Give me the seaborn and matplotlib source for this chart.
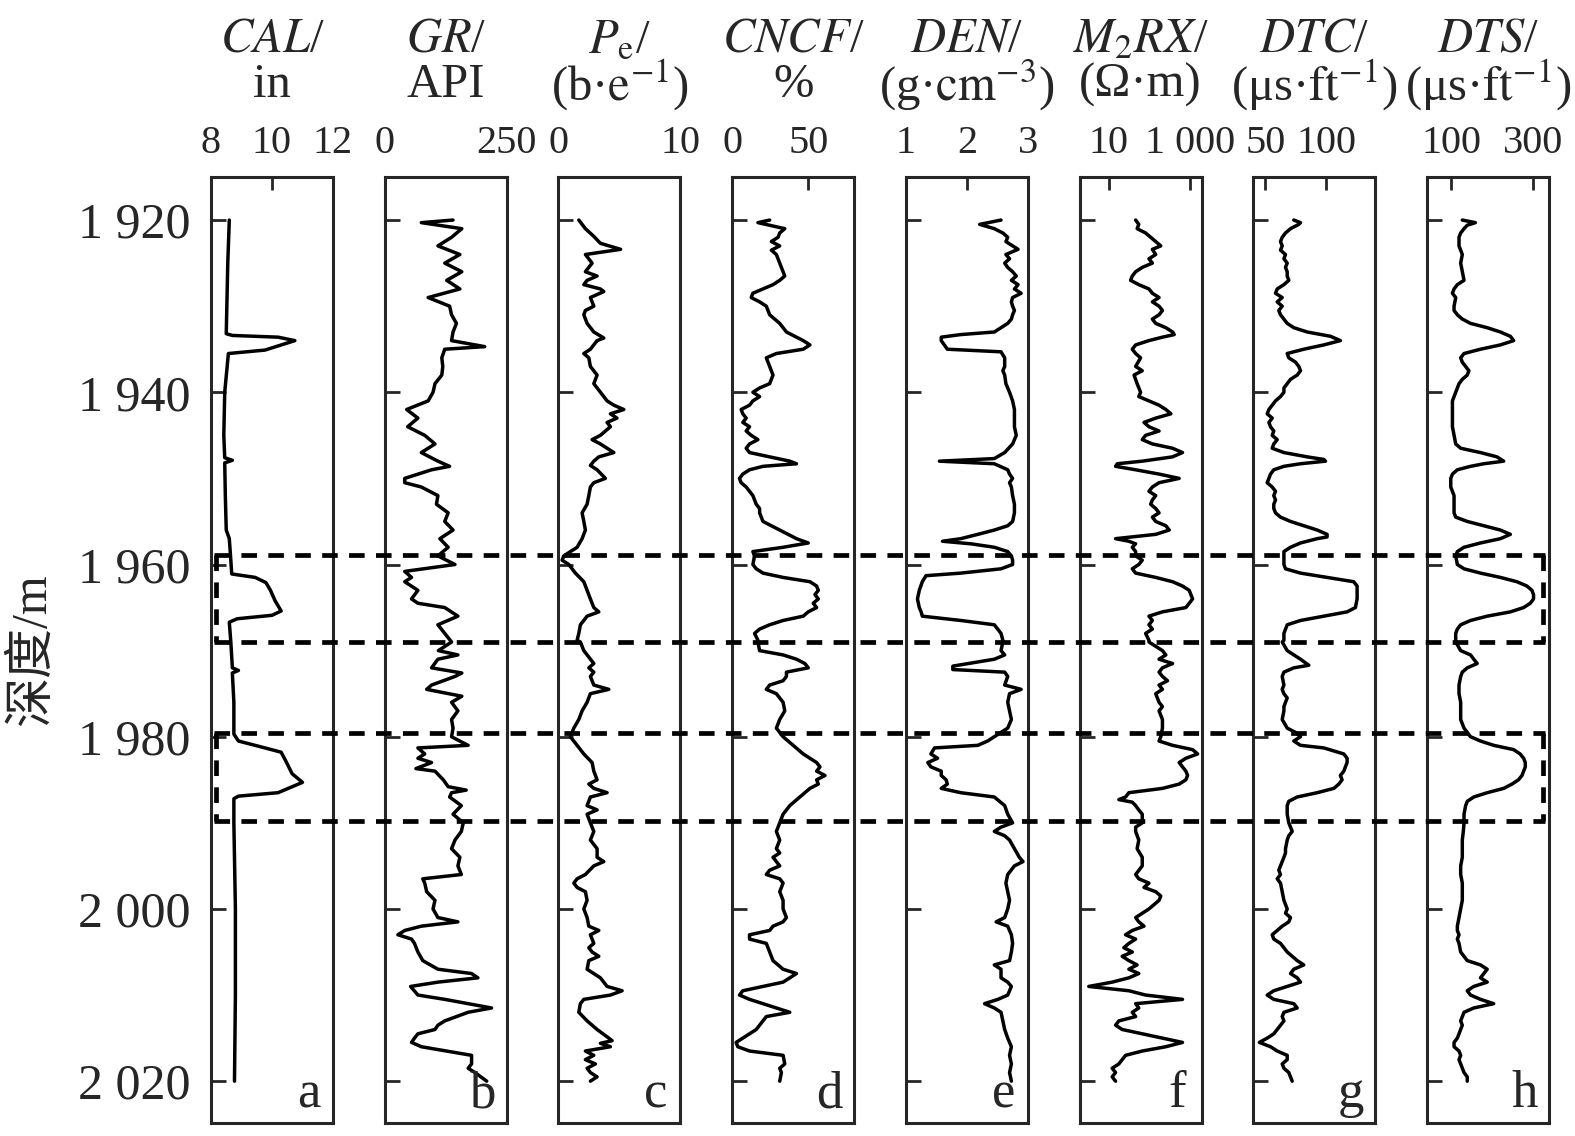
import numpy as np
import pandas as pd
import matplotlib
matplotlib.use("Agg")
import matplotlib.pyplot as plt
import matplotlib.transforms as mtransforms
from matplotlib.lines import Line2D
from matplotlib.ticker import NullLocator
import seaborn as sns

# ---- log data (depth in m) ----
cal_depth = [1920, 1925, 1933.2, 1933.4, 1933.6, 1934.0, 1935.1, 1935.5, 1940, 1945, 1947.6, 1947.9, 1948.2,
             1952, 1956, 1957, 1959.5, 1961.1, 1961.5, 1962.1, 1963.0, 1964.2, 1965.4, 1965.9, 1966.3, 1966.7,
             1969, 1972, 1972.3, 1972.6, 1976, 1979.7, 1980.5, 1981.3, 1981.8, 1982.8, 1984.3, 1985.3, 1986.5,
             1986.9, 1987.2, 1990, 2000, 2010, 2020]
cal = [8.6, 8.55, 8.5, 8.7, 10.2, 10.75, 9.77, 8.57, 8.45, 8.42, 8.45, 8.7, 8.45,
       8.47, 8.5, 8.6, 8.65, 8.68, 9.45, 9.8, 9.95, 10.1, 10.3, 10.0, 8.86, 8.6,
       8.65, 8.7, 8.9, 8.7, 8.75, 8.75, 8.9, 9.77, 10.3, 10.45, 10.66, 11.0, 10.2,
       8.9, 8.75, 8.75, 8.8, 8.8, 8.77]

gr_depth = [1920.0, 1920.3, 1921, 1922, 1923, 1924, 1925, 1926, 1927, 1928, 1929, 1930, 1931, 1932, 1933, 1934,
            1934.7, 1935, 1936, 1937, 1938, 1939, 1940, 1941, 1942, 1943, 1944, 1945, 1946, 1947, 1948, 1948.6,
            1949, 1950, 1950.5, 1951, 1952, 1953, 1954, 1955, 1956, 1957, 1958, 1959, 1960, 1960.8, 1961.5, 1962,
            1963, 1964, 1964.5, 1965, 1966, 1967, 1968, 1969, 1970, 1970.5, 1971, 1972, 1972.6, 1973, 1974,
            1974.5, 1975.3, 1976, 1977, 1978, 1979, 1980, 1980.6, 1981, 1981.3, 1982, 1982.5, 1983, 1983.7, 1984,
            1985, 1985.8, 1986.2, 1986.5, 1987, 1988, 1989, 1990, 1991, 1992, 1993, 1994, 1995, 1996, 1996.5,
            1997, 1998, 1999, 2000, 2001, 2001.5, 2002, 2002.5, 2003, 2003.5, 2004, 2005, 2006, 2007, 2007.5,
            2008, 2008.5, 2009, 2010, 2010.5, 2011, 2011.5, 2012, 2013, 2013.5, 2014, 2014.5, 2015, 2015.5, 2016,
            2017, 2018, 2018.5, 2019, 2020]
gr = [140, 75, 158, 137, 109, 154, 123, 158, 127, 154, 89, 133, 137, 147, 140, 137,
      205, 123, 117, 119, 117, 103, 99, 89, 45, 68, 47, 82, 103, 75, 109, 133,
      96, 41, 41, 75, 109, 106, 130, 123, 140, 113, 130, 109, 144, 41, 55, 41,
      68, 55, 68, 123, 150, 109, 123, 137, 110, 150, 109, 96, 158, 144, 96,
      86, 158, 137, 150, 137, 140, 137, 157, 171, 68, 82, 68, 96, 64, 103,
      120, 130, 167, 137, 133, 157, 140, 161, 157, 144, 137, 154, 150, 157, 78,
      82, 86, 103, 99, 109, 150, 75, 41, 27, 55, 61, 68, 78, 109, 178,
      191, 109, 53, 68, 123, 171, 219, 171, 123, 109, 103, 68, 61, 55, 75,
      178, 178, 171, 185, 209]

pe_depth = [1920, 1920.5, 1921, 1921.9, 1922.7, 1923.4, 1924, 1925, 1926, 1926.5, 1927, 1927.5, 1928, 1928.3,
            1929, 1930, 1930.5, 1931, 1932, 1933, 1933.7, 1934, 1935, 1935.5, 1936, 1937, 1938, 1939, 1940,
            1941, 1941.5, 1942, 1942.5, 1943, 1943.5, 1944, 1945, 1945.5, 1946, 1947, 1947.5, 1948, 1948.5,
            1949, 1950, 1950.5, 1951, 1952, 1953, 1954, 1955, 1956, 1957, 1958, 1958.5, 1959, 1959.5, 1960,
            1961, 1962, 1963, 1964, 1965, 1965.5, 1966, 1967, 1968, 1968.8, 1969, 1970, 1971, 1971.5, 1972,
            1972.5, 1973, 1974, 1974.5, 1975, 1976, 1977, 1978, 1979, 1980, 1981, 1982, 1983, 1984, 1985,
            1985.5, 1986, 1986.5, 1987, 1988, 1988.5, 1989, 1990, 1991, 1992, 1993, 1994, 1994.5, 1995, 1996,
            1996.5, 1997, 1997.5, 1998, 1999, 2000, 2001, 2002, 2002.5, 2003, 2004, 2004.5, 2005, 2005.5,
            2006, 2007, 2007.5, 2008, 2009, 2009.5, 2010, 2010.5, 2011, 2012, 2013, 2014, 2015, 2015.3,
            2015.6, 2016, 2016.5, 2017, 2017.5, 2018, 2018.5, 2019, 2019.5, 2020]
pe = [1.67, 1.94, 2.21, 2.9, 3.44, 5.1, 2.21, 2.76, 2.21, 3.17, 2.35, 2.08, 3.44, 3.72,
      2.62, 2.9, 2.21, 2.08, 2.35, 2.9, 3.72, 3.17, 2.62, 2.08, 2.49, 2.62, 3.17, 2.9, 3.44,
      3.99, 4.54, 5.36, 4.26, 4.8, 3.99, 4.26, 3.44, 2.76, 3.44, 4.54, 3.31, 2.9, 2.62,
      3.17, 3.85, 2.9, 2.62, 2.49, 2.35, 1.94, 2.08, 2.21, 1.94, 1.53, 0.98, 0.44, 0.3, 0.85,
      1.39, 2.08, 2.35, 2.62, 2.9, 3.31, 2.35, 1.8, 1.67, 1.53, 1.8, 2.08, 2.62, 2.9, 2.49,
      2.9, 2.62, 2.9, 4.13, 2.62, 2.35, 1.94, 1.67, 1.26, 0.98, 1.53, 2.08, 2.76, 2.9, 3.17,
      2.49, 2.9, 3.99, 2.62, 2.35, 3.17, 2.35, 2.62, 2.9, 2.62, 3.17, 3.17, 3.72, 2.9, 2.21,
      1.53, 1.26, 1.53, 2.21, 2.35, 2.08, 2.35, 2.49, 3.31, 2.62, 2.9, 2.49, 2.76, 3.31,
      2.49, 2.35, 2.9, 3.44, 3.99, 5.22, 4.26, 2.08, 1.8, 1.67, 2.35, 3.17, 4.13, 4.4,
      3.44, 4.26, 2.21, 2.9, 2.21, 3.03, 2.35, 2.62, 3.17, 2.62]

cncf_depth = [1920, 1920.3, 1921, 1921.5, 1922, 1922.5, 1923, 1923.5, 1924, 1925, 1926, 1926.5, 1927, 1927.5,
              1928, 1928.5, 1929, 1929.5, 1930, 1930.5, 1931, 1932, 1933, 1934, 1934.5, 1935, 1935.5, 1936,
              1937, 1938, 1939, 1939.5, 1940, 1940.5, 1941, 1941.5, 1942, 1942.5, 1943, 1943.5, 1944, 1944.5,
              1945, 1945.5, 1946, 1946.5, 1947, 1948, 1948.3, 1948.6, 1949, 1949.5, 1950, 1950.5, 1951, 1952,
              1953, 1953.5, 1954, 1955, 1956, 1957, 1957.5, 1958, 1958.5, 1959, 1960, 1960.5, 1961, 1961.5,
              1962, 1962.5, 1963, 1963.5, 1964, 1964.5, 1965, 1965.5, 1966, 1966.5, 1967, 1967.5, 1968, 1968.8,
              1969, 1970, 1970.5, 1971, 1971.5, 1972, 1972.5, 1973, 1973.5, 1974, 1974.5, 1975, 1975.5, 1976,
              1977, 1978, 1979, 1980, 1981, 1982, 1983, 1983.5, 1984, 1984.5, 1985, 1985.5, 1986, 1987, 1988,
              1989, 1990, 1991, 1992, 1993, 1993.5, 1994, 1995, 1995.5, 1996, 1996.5, 1997, 1998, 1999, 2000,
              2001, 2001.5, 2002, 2002.5, 2003, 2003.5, 2004, 2005, 2006, 2007, 2007.5, 2008, 2008.5, 2009,
              2009.5, 2010, 2010.5, 2011, 2011.5, 2012, 2012.5, 2013, 2014, 2015, 2015.5, 2016, 2016.5, 2017,
              2018, 2018.5, 2019, 2020]
cncf = [24.6, 16.9, 34.5, 31.2, 30.1, 25.7, 31.2, 25.7, 29.0, 31.2, 33.4, 34.5, 31.2, 26.8,
        20.2, 13.6, 12.5, 18.0, 22.4, 23.5, 24.6, 31.2, 35.6, 46.6, 51.0, 46.6, 29.0, 22.4,
        24.6, 26.8, 24.6, 18.0, 13.6, 18.0, 13.6, 11.4, 5.9, 7.0, 9.2, 7.0, 11.4, 9.2,
        12.5, 16.9, 11.4, 9.2, 11.4, 37.8, 42.2, 20.2, 11.4, 7.0, 4.8, 5.9, 9.2, 13.6,
        15.8, 18.0, 18.0, 20.2, 31.2, 42.2, 49.9, 33.4, 13.6, 14.7, 13.6, 15.8, 20.2, 33.4,
        51.0, 55.4, 56.5, 54.3, 56.5, 53.2, 55.4, 49.9, 46.6, 33.4, 24.6, 18.0, 14.7, 16.9,
        16.9, 18.0, 33.4, 42.2, 47.7, 49.9, 35.6, 35.6, 33.4, 24.6, 22.4, 29.0, 31.2, 33.4,
        34.5, 31.2, 29.0, 33.4, 40.0, 46.6, 55.4, 57.6, 55.4, 60.9, 55.4, 56.5, 51.0, 44.4, 37.8,
        33.4, 31.2, 29.0, 31.2, 29.0, 31.2, 26.8, 31.2, 24.6, 22.4, 31.2, 33.4, 31.2, 33.4, 33.4,
        35.6, 33.4, 26.8, 24.6, 11.4, 11.4, 22.4, 24.6, 26.8, 33.4, 42.2, 37.8, 33.4, 20.2,
        7.0, 4.8, 11.4, 20.2, 29.0, 37.8, 22.4, 20.2, 15.8, 7.0, 2.6, 3.7, 11.4, 33.4,
        34.5, 31.2, 32.3, 31.2]

den_depth = [1920, 1920.5, 1921, 1921.5, 1922, 1922.5, 1923, 1923.4, 1924, 1924.5, 1925, 1925.5, 1926, 1926.5,
             1927, 1927.5, 1928, 1928.5, 1929, 1929.5, 1930, 1930.5, 1931, 1931.5, 1932, 1932.5, 1933, 1933.3,
             1933.6, 1934, 1934.5, 1935, 1935.3, 1936, 1937, 1937.5, 1938, 1939, 1940, 1941, 1942, 1943, 1944,
             1945, 1946, 1947, 1947.7, 1948, 1948.3, 1949, 1949.5, 1950, 1950.5, 1951, 1952, 1953, 1954, 1955,
             1955.5, 1956, 1956.5, 1957, 1957.3, 1957.6, 1958, 1958.5, 1959, 1959.5, 1960, 1960.5, 1961, 1961.3,
             1962, 1963, 1964, 1965, 1965.5, 1966, 1966.5, 1967, 1968, 1968.8, 1969, 1970, 1970.5, 1971, 1971.8,
             1972.2, 1972.5, 1973, 1974, 1974.5, 1975, 1976, 1977, 1978, 1979, 1979.5, 1980, 1980.5, 1981,
             1981.3, 1982, 1982.5, 1983, 1983.5, 1984, 1984.5, 1985, 1985.5, 1986, 1986.5, 1987, 1988, 1989,
             1990, 1990.5, 1991, 1991.5, 1992, 1993, 1994, 1994.5, 1995, 1996, 1997, 1998, 1999, 2000, 2001,
             2001.5, 2002, 2003, 2004, 2005, 2006, 2006.5, 2007, 2008, 2008.5, 2009, 2010, 2010.5, 2011,
             2011.5, 2012, 2013, 2014, 2015, 2016, 2017, 2018, 2019, 2020]
den = [2.56, 2.21, 2.45, 2.59, 2.67, 2.64, 2.75, 2.84, 2.64, 2.70, 2.62, 2.67, 2.75, 2.81,
       2.73, 2.84, 2.78, 2.89, 2.75, 2.73, 2.75, 2.78, 2.75, 2.73, 2.67, 2.56, 2.45, 1.90,
       1.58, 1.58, 1.63, 1.68, 2.56, 2.62, 2.62, 2.59, 2.62, 2.64, 2.70, 2.75, 2.78, 2.78, 2.78,
       2.81, 2.75, 2.62, 2.45, 1.55, 2.45, 2.67, 2.70, 2.75, 2.70, 2.73, 2.75, 2.78, 2.78, 2.75,
       2.67, 2.45, 2.18, 1.90, 1.60, 2.07, 2.45, 2.67, 2.73, 2.75, 2.75, 2.56, 1.90, 1.33,
       1.27, 1.22, 1.19, 1.22, 1.25, 1.27, 1.90, 2.45, 2.56, 2.59, 2.59, 2.56, 2.62, 2.45, 1.77,
       1.77, 2.62, 2.67, 2.62, 2.89, 2.70, 2.67, 2.70, 2.73, 2.67, 2.56, 2.45, 2.34, 2.18,
       1.47, 1.41, 1.52, 1.36, 1.41, 1.58, 1.58, 1.66, 1.68, 1.58, 1.90, 2.45, 2.62, 2.67,
       2.75, 2.56, 2.45, 2.62, 2.70, 2.78, 2.86, 2.92, 2.78, 2.67, 2.64, 2.67, 2.70, 2.67, 2.62,
       2.48, 2.67, 2.73, 2.75, 2.73, 2.70, 2.45, 2.56, 2.56, 2.67, 2.73, 2.67, 2.51, 2.29,
       2.45, 2.56, 2.59, 2.62, 2.67, 2.73, 2.70, 2.73, 2.70, 2.73]

m2rx_depth = [1920, 1920.5, 1921, 1921.5, 1922, 1922.5, 1923, 1923.4, 1924, 1924.5, 1925, 1925.5, 1926, 1926.5,
              1927, 1927.5, 1928, 1928.5, 1929, 1929.5, 1930, 1930.5, 1931, 1931.5, 1932, 1932.5, 1933, 1933.3,
              1933.6, 1934, 1934.5, 1935, 1935.5, 1936, 1937, 1937.5, 1938, 1939, 1940, 1940.5, 1941, 1941.5,
              1942, 1942.5, 1943, 1943.5, 1944, 1944.5, 1945, 1945.5, 1946, 1946.5, 1947, 1947.5, 1948, 1948.3,
              1948.6, 1949, 1949.5, 1950, 1950.5, 1951, 1951.5, 1952, 1952.5, 1953, 1953.5, 1954, 1954.5, 1955,
              1955.5, 1956, 1956.5, 1957, 1957.3, 1957.6, 1958, 1958.5, 1959, 1959.5, 1960, 1960.5, 1961, 1961.5,
              1962, 1962.5, 1963, 1963.5, 1964, 1964.5, 1965, 1965.5, 1966, 1966.5, 1967, 1967.5, 1968, 1968.8,
              1969, 1970, 1970.5, 1971, 1971.5, 1972, 1972.5, 1973, 1973.5, 1974, 1974.5, 1975, 1976, 1976.5,
              1977, 1978, 1979, 1980, 1980.5, 1981, 1981.5, 1982, 1982.5, 1983, 1983.5, 1984, 1984.5, 1985,
              1985.5, 1986, 1986.5, 1987, 1987.3, 1987.6, 1988, 1988.5, 1989, 1990, 1990.5, 1991, 1992, 1993,
              1994, 1995, 1996, 1996.5, 1997, 1997.5, 1998, 1998.5, 1999, 2000, 2000.5, 2001, 2001.5, 2002,
              2002.5, 2003, 2003.5, 2004, 2004.5, 2005, 2005.5, 2006, 2006.5, 2007, 2007.5, 2008, 2008.5, 2009,
              2009.5, 2010, 2010.5, 2011, 2011.5, 2012, 2012.5, 2013, 2013.5, 2014, 2014.5, 2015, 2015.5, 2016,
              2016.5, 2017, 2017.5, 2018, 2018.5, 2019, 2019.5, 2020]
m2rx = [46, 55, 50, 81, 108, 144, 192, 119, 144, 98, 119, 67, 46, 38,
        34.5, 55, 98, 119, 174, 119, 174, 211, 174, 119, 144, 256, 375, 412,
        211, 98, 46, 38, 46, 61, 46, 67, 42, 50, 61, 55, 98, 174,
        256, 341, 144, 74, 98, 174, 81, 67, 119, 375, 660, 375, 67, 16.2,
        14.7, 46, 174, 546, 174, 119, 98, 144, 119, 108, 144, 174, 119, 144,
        256, 310, 144, 14.7, 31.3, 46, 38, 46, 46, 67, 55, 38, 46, 144,
        375, 660, 966, 1060, 1170, 966, 800, 211, 98, 119, 98, 119, 81, 98,
        98, 211, 256, 174, 375, 211, 174, 211, 282, 174, 211, 144, 174, 211,
        174, 211, 211, 192, 174, 375, 1170, 1560, 800, 546, 660, 800, 880, 800,
        546, 211, 31.3, 25.9, 17.7, 38, 46, 55, 67, 67, 46, 46, 55, 50,
        67, 67, 46, 55, 98, 74, 144, 192, 174, 98, 67, 46, 55, 74,
        38, 25.9, 46, 31.3, 23.5, 38, 21.4, 31.3, 50, 31.3, 55, 31.3, 12.1, 3.2,
        31.3, 81, 660, 46, 55, 38, 46, 17.7, 14.7, 21.4, 67, 211, 660, 256,
        67, 25.9, 21.4, 17.7, 12.1, 14.7, 12.1, 14.7]

dtc_depth = [1920, 1920.3, 1920.5, 1921, 1921.5, 1922, 1922.5, 1923, 1923.5, 1924, 1924.5, 1925, 1925.5, 1926,
             1926.5, 1927, 1927.5, 1928, 1928.5, 1929, 1929.5, 1930, 1930.5, 1931, 1931.5, 1932, 1932.5, 1933,
             1933.5, 1934, 1934.5, 1935, 1935.5, 1936, 1936.5, 1937, 1937.5, 1938, 1938.5, 1939, 1939.5, 1940,
             1940.5, 1941, 1941.5, 1942, 1942.5, 1943, 1943.5, 1944, 1944.5, 1945, 1945.5, 1946, 1946.5, 1947,
             1947.5, 1947.8, 1948, 1948.3, 1948.6, 1949, 1949.5, 1950, 1950.5, 1951, 1951.5, 1952, 1952.5, 1953,
             1953.5, 1954, 1954.5, 1955, 1955.5, 1956, 1956.5, 1956.8, 1957, 1957.5, 1958, 1958.5, 1959, 1960,
             1960.5, 1961, 1961.5, 1962, 1962.5, 1963, 1964, 1965, 1965.5, 1966, 1966.5, 1967, 1968, 1968.8,
             1969, 1970, 1970.5, 1971, 1971.7, 1972, 1972.5, 1973, 1974, 1974.5, 1975, 1975.5, 1976, 1976.5,
             1977, 1978, 1979, 1979.5, 1980, 1980.5, 1981, 1981.3, 1982, 1982.5, 1983, 1983.5, 1984, 1984.5,
             1985, 1985.5, 1986, 1986.5, 1987, 1987.5, 1988, 1989, 1990, 1990.5, 1991, 1991.5, 1992, 1993,
             1993.5, 1994, 1994.5, 1995, 1995.5, 1996, 1996.5, 1997, 1998, 1999, 2000, 2000.5, 2001, 2001.5,
             2002, 2002.5, 2003, 2003.5, 2004, 2004.5, 2005, 2005.5, 2006, 2006.5, 2007, 2007.5, 2008, 2008.5,
             2009, 2009.5, 2010, 2010.5, 2011, 2011.5, 2012, 2012.5, 2013, 2013.5, 2014, 2014.5, 2015, 2015.5,
             2016, 2016.5, 2017, 2017.5, 2018, 2018.5, 2019, 2020]
dtc = [73.2, 78.7, 77.3, 70.5, 66.4, 63.7, 62.3, 63.7, 62.3, 66.4, 65.1, 67.8, 66.4, 67.8,
       67.8, 69.1, 65.1, 59.6, 58.2, 63.7, 59.6, 63.7, 60.9, 62.3, 65.1, 67.8, 73.2, 84.2,
       103.3, 111.4, 97.8, 81.4, 67.8, 69.1, 74.6, 77.3, 78.7, 76.0, 70.5, 67.8, 65.1, 65.1,
       62.3, 58.2, 55.5, 52.8, 51.4, 55.5, 52.8, 54.1, 56.8, 55.5, 59.6, 56.8, 55.5, 65.1,
       84.2, 97.8, 99.2, 78.7, 65.1, 56.8, 54.1, 52.8, 51.4, 55.5, 58.2, 56.8, 58.2, 56.8,
       56.8, 58.2, 62.3, 70.5, 81.4, 92.4, 100.5, 100.5, 92.4, 78.7, 70.5, 65.1, 65.1, 65.1,
       66.4, 78.7, 100.5, 122.3, 125.1, 125.1, 125.1, 123.7, 116.9, 97.8, 78.7, 67.8, 65.1, 65.1,
       63.7, 67.8, 73.2, 78.7, 85.5, 73.2, 65.1, 63.7, 65.1, 63.7, 65.1, 67.8, 66.4, 65.1,
       65.1, 63.7, 67.8, 74.6, 78.7, 73.2, 78.7, 97.8, 114.2, 116.9, 116.9, 115.5, 114.2, 111.4,
       112.8, 110.1, 106.0, 92.4, 76.0, 69.1, 67.8, 67.8, 69.1, 70.5, 71.9, 69.1, 67.8, 66.4,
       66.4, 65.1, 63.7, 62.3, 60.9, 62.3, 59.6, 62.3, 63.7, 65.1, 67.8, 66.4, 70.5, 69.1,
       63.7, 59.6, 55.5, 56.8, 62.3, 65.1, 67.8, 71.9, 76.0, 81.4, 73.2, 70.5, 76.0, 78.7,
       67.8, 56.8, 51.4, 56.8, 73.2, 76.0, 65.1, 63.7, 65.1, 62.3, 59.6, 56.8, 51.4, 45.0,
       54.1, 59.6, 67.8, 67.8, 63.7, 65.1, 69.1, 71.9]

dts_depth = [1920, 1920.3, 1920.6, 1921, 1921.5, 1922, 1923, 1924, 1925, 1926, 1927, 1927.5, 1928, 1928.5,
             1929, 1930, 1930.5, 1931, 1931.5, 1932, 1932.5, 1933, 1933.5, 1934, 1934.5, 1935, 1935.5, 1936,
             1936.5, 1937, 1937.5, 1938, 1938.5, 1939, 1940, 1941, 1942, 1943, 1944, 1945, 1946, 1946.5, 1947,
             1947.5, 1948, 1948.3, 1948.6, 1949, 1949.5, 1950, 1951, 1952, 1953, 1954, 1954.5, 1955, 1955.5,
             1956, 1956.5, 1957, 1957.5, 1958, 1958.5, 1959, 1960, 1960.5, 1961, 1961.5, 1962, 1962.5, 1963,
             1963.5, 1964, 1964.5, 1965, 1965.5, 1966, 1966.5, 1967, 1967.5, 1968, 1968.8, 1969, 1970, 1970.5,
             1971, 1971.5, 1972, 1972.5, 1973, 1974, 1975, 1976, 1977, 1978, 1979, 1979.5, 1980, 1980.5, 1981,
             1981.5, 1982, 1982.5, 1983, 1983.5, 1984, 1984.5, 1985, 1985.5, 1986, 1986.5, 1987, 1987.5, 1988,
             1989, 1990, 1991, 1992, 1993, 1994, 1995, 1996, 1997, 1998, 1999, 2000, 2001, 2002, 2002.5, 2003,
             2003.5, 2004, 2005, 2006, 2006.5, 2007, 2007.5, 2008, 2008.5, 2009, 2009.5, 2010, 2010.5, 2011,
             2011.5, 2012, 2013, 2013.5, 2014, 2015, 2015.5, 2016, 2016.5, 2017, 2017.5, 2018, 2019, 2019.5, 2020]
dts = [126.8, 159, 139, 131, 122.8, 118.7, 118.7, 126.8, 122.8, 126.8, 131, 114.6, 106.5, 102.5,
       110.6, 106.5, 106.5, 114.6, 126.8, 147, 188, 220.5, 245, 253, 220.5, 171.5, 131, 122.8,
       126.8, 135, 143, 139, 126.8, 118.7, 110.6, 102.5, 102.5, 102.5, 102.5, 106.5, 110.6, 122.8, 171.5,
       212, 228.6, 179.7, 147, 114.6, 102.5, 98.4, 98.4, 106.5, 106.5, 106.5, 110.6, 139, 179.7,
       220.5, 245, 220.5, 171.5, 131, 114.6, 110.6, 114.6, 131, 171.5, 220.5, 261, 285.7, 298,
       302, 302, 294, 277.6, 245, 188, 147, 122.8, 114.6, 110.6, 110.6, 110.6, 122.8, 147,
       155, 163.4, 139, 126.8, 122.8, 118.7, 118.7, 122.8, 122.8, 122.8, 131, 139, 147, 171.5, 204,
       253, 269, 277.6, 281.7, 281.7, 277.6, 273.6, 265, 249, 228.6, 188, 155, 139, 135,
       131, 131, 129.3, 126.8, 126.8, 126.8, 122.8, 122.8, 126.8, 126.8, 126.8, 122.8, 118.7, 114.6, 114.6, 118.7,
       114.6, 118.7, 122.8, 139, 171.5, 188, 179.7, 171.5, 188, 155, 139, 147, 171.5, 204,
       155, 131, 122.8, 126.8, 122.8, 114.6, 106.5, 106.5, 118.7, 122.8, 118.7, 122.8, 131, 139, 139]

# ---- track setup ----
names = ["CAL", "GR", "Pe", "CNCF", "DEN", "M2RX", "DTC", "DTS"]
title_top = [r"$\mathit{CAL}$/", r"$\mathit{GR}$/", r"$\mathit{P}_\mathrm{e}$/", r"$\mathit{CNCF}$/",
             r"$\mathit{DEN}$/", r"$\mathit{M}_2\mathit{RX}$/", r"$\mathit{DTC}$/", r"$\mathit{DTS}$/"]
title_unit = ["in", "API", r"(b·$\mathrm{e}^{-1}$)", "%", r"(g·$\mathrm{cm}^{-3}$)", "(Ω·m)",
              r"(μs·$\mathrm{ft}^{-1}$)", r"(μs·$\mathrm{ft}^{-1}$)"]
xlims = [(8, 12), (0, 250), (0, 10), (0, 80), (1, 3), (1.9, 1950), (40, 140), (40, 340)]
xticks = [[8, 10, 12], [0, 250], [0, 10], [0, 50], [1, 2, 3], [10, 1000], [50, 100], [100, 300]]
xticklabels = [["8", "10", "12"], ["0", "250"], ["0", "10"], ["0", "50"], ["1", "2", "3"],
               ["10", "1 000"], ["50", "100"], ["100", "300"]]
letters = list("abcdefgh")
depth_ticks = [1920, 1940, 1960, 1980, 2000, 2020]
zones = [(1958.9, 1969.0), (1979.6, 1989.8)]

frames = []
for nm, d, v in zip(names, [cal_depth, gr_depth, pe_depth, cncf_depth, den_depth, m2rx_depth, dtc_depth, dts_depth],
                    [cal, gr, pe, cncf, den, m2rx, dtc, dts]):
    frames.append(pd.DataFrame({"depth": d, "value": v, "log": nm}))
df = pd.concat(frames, ignore_index=True)

sns.set_style("ticks")
plt.rcParams["font.family"] = ["Liberation Serif", "DejaVu Serif"]
plt.rcParams["mathtext.fontset"] = "stix"
plt.rcParams["axes.linewidth"] = 2.0

W, H = 1575, 1136
fig, axes = plt.subplots(1, 8, figsize=(W / 100, H / 100), dpi=100, sharey=True)
fig.subplots_adjust(left=211 / W, right=1549 / W, top=1 - 177 / H, bottom=1 - 1122.5 / H, wspace=0.424)

for i, ax in enumerate(axes):
    sub = df[df["log"] == names[i]]
    if names[i] == "M2RX":
        ax.set_xscale("log")
    sns.lineplot(data=sub, x="value", y="depth", orient="y", sort=False, estimator=None,
                 color="black", linewidth=2.5, ax=ax)
    ax.set_xlim(*xlims[i])
    ax.set_xticks(xticks[i])
    ax.set_xticklabels(xticklabels[i])
    ax.xaxis.set_minor_locator(NullLocator())
    ax.xaxis.tick_top()
    ax.tick_params(axis="x", direction="in", length=9, width=2, top=True, bottom=False,
                   labeltop=True, labelbottom=False, labelsize=29, pad=11)
    ax.tick_params(axis="y", direction="in", length=11, width=2, left=True, right=False,
                   labelsize=36, pad=15)
    ax.set_xlabel("")
    ax.set_ylabel("")
    for s in ax.spines.values():
        s.set_visible(True)
        s.set_linewidth(2.2)
    ax.text(0.5, 1.145, title_top[i], transform=ax.transAxes, ha="center", va="center", fontsize=35)
    ax.text(0.5, 1.097, title_unit[i], transform=ax.transAxes, ha="center", va="center", fontsize=35)
    ax.text(0.8, 0.016, letters[i], transform=ax.transAxes, ha="center", va="baseline", fontsize=38)

axes[0].set_ylim(2024.8, 1915.0)
axes[0].set_yticks(depth_ticks)
axes[0].set_yticklabels([f"{t // 1000} {t % 1000:03d}" for t in depth_ticks])

fig.text(33 / W, 1 - 650 / H, "深度/m", rotation=90, ha="center", va="center", fontsize=36,
         family=["Liberation Serif", "Noto Sans CJK SC"])

# dashed boxes around the two intervals, spanning all tracks
tr = mtransforms.blended_transform_factory(fig.transFigure, axes[0].transData)
x0, x1 = 216 / W, 1543 / W
dash = dict(color="black", linewidth=3.4, linestyle=(0, (3.3, 2.4)), transform=tr, zorder=10, clip_on=False)
for top, bot in zones:
    for yy in (top, bot):
        fig.add_artist(Line2D([x0 - 0.001, x1 + 0.001], [yy, yy], **dash))
    for xx in (x0, x1):
        fig.add_artist(Line2D([xx, xx], [top, bot], **dash))

fig.savefig("out.png", dpi=100, facecolor="white")
